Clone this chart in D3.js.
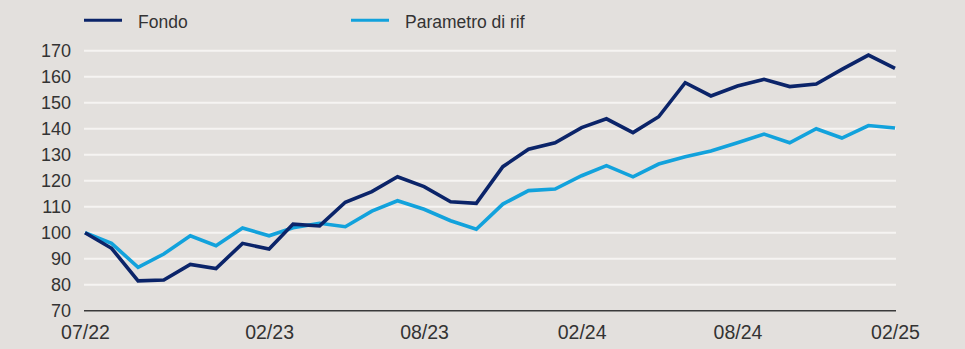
<!DOCTYPE html>
<html>
<head>
<meta charset="utf-8">
<script src="https://cdn.jsdelivr.net/npm/d3@7/dist/d3.min.js"></script>
<style>
  html, body { margin: 0; padding: 0; background: #e3e0dd; }
  svg { display: block; }
  text { font-family: "Liberation Sans", Arial, sans-serif; fill: #333; }
</style>
</head>
<body>
<svg id="chart" width="965" height="349"></svg>
<script>
// Monthly index values, 07/22 – 02/25 (base 100)
const months = d3.range(32).map(i => new Date(2022, 6 + i, 1));
const fondo = [100, 94, 81.5, 81.8, 87.8, 86.2, 95.9, 93.7, 103.3, 102.6, 111.7, 115.8,
               121.5, 117.7, 111.9, 111.3, 125.4, 132.1, 134.6, 140.4, 143.8, 138.5, 144.6, 157.7,
               152.6, 156.4, 159, 156.2, 157.2, 162.8, 168.3, 163.2];
const parametro = [100, 95.9, 86.7, 91.8, 98.8, 95.0, 101.8, 98.8, 101.9, 103.6, 102.3, 108.3,
                   112.3, 109, 104.6, 101.3, 111, 116.2, 116.8, 121.9, 125.8, 121.5, 126.4, 129.2,
                   131.4, 134.6, 137.9, 134.6, 140, 136.4, 141.2, 140.3];
const yTicks = [70, 80, 90, 100, 110, 120, 130, 140, 150, 160, 170];
const xTicks = [new Date(2022, 6, 1), new Date(2023, 1, 1), new Date(2023, 7, 1),
                new Date(2024, 1, 1), new Date(2024, 7, 1), new Date(2025, 1, 1)];
const seriesNames = ["Fondo", "Parametro di rif"];
const colors = ["#0b2469", "#12a2dc"];

const svg = d3.select("#chart");
const margin = { left: 85, right: 70, top: 50.7, bottom: 38.3 };
const W = 965, H = 349;

const x = d3.scaleTime()
  .domain([months[0], months[months.length - 1]])
  .range([margin.left, W - margin.right]);
const y = d3.scaleLinear()
  .domain([70, 170])
  .range([H - margin.bottom, margin.top]);

// Horizontal gridlines
svg.append("g")
  .selectAll("line")
  .data(yTicks.filter(v => v !== 70))
  .join("line")
  .attr("x1", margin.left - 1)
  .attr("x2", W - margin.right + 1)
  .attr("y1", d => y(d))
  .attr("y2", d => y(d))
  .attr("stroke", "#f6f4f2")
  .attr("stroke-width", 2);

// Y axis labels
const yAxis = d3.axisLeft(y).tickValues(yTicks).tickSize(0).tickPadding(14);
const gy = svg.append("g")
  .attr("transform", `translate(${margin.left},0)`)
  .call(yAxis);
gy.select(".domain").remove();
gy.selectAll("text")
  .attr("font-size", 18)
  .attr("fill", "#333")
  .attr("font-family", "Liberation Sans, Arial, sans-serif");

// X axis baseline and labels
const xAxis = d3.axisBottom(x).tickValues(xTicks).tickSize(0).tickPadding(14.5)
  .tickFormat(d3.timeFormat("%m/%y"));
const gx = svg.append("g")
  .attr("transform", `translate(0,${y(70)})`)
  .call(xAxis);
gx.select(".domain").remove();
gx.selectAll("text")
  .attr("font-size", 19.5)
  .attr("fill", "#333")
  .attr("font-family", "Liberation Sans, Arial, sans-serif");
svg.append("line")
  .attr("x1", margin.left - 1)
  .attr("x2", W - margin.right + 1)
  .attr("y1", y(70))
  .attr("y2", y(70))
  .attr("stroke", "#3a3a3a")
  .attr("stroke-width", 1.5);

// Series lines
const line = d3.line()
  .x((d, i) => x(months[i]))
  .y(d => y(d));

[parametro, fondo].forEach((vals, k) => {
  const idx = k === 0 ? 1 : 0;
  svg.append("path")
    .datum(vals)
    .attr("d", line)
    .attr("fill", "none")
    .attr("stroke", colors[idx])
    .attr("stroke-width", 3.6)
    .attr("stroke-linejoin", "miter")
    .attr("stroke-linecap", "butt");
});

// Legend
const legendX = [84, 351];
const legend = svg.append("g");
seriesNames.forEach((name, i) => {
  legend.append("line")
    .attr("x1", legendX[i]).attr("x2", legendX[i] + 38)
    .attr("y1", 20.3).attr("y2", 20.3)
    .attr("stroke", colors[i])
    .attr("stroke-width", 3);
  legend.append("text")
    .attr("x", legendX[i] + 54)
    .attr("y", 27.5)
    .attr("font-size", 17.5)
    .text(name);
});
</script>
</body>
</html>
